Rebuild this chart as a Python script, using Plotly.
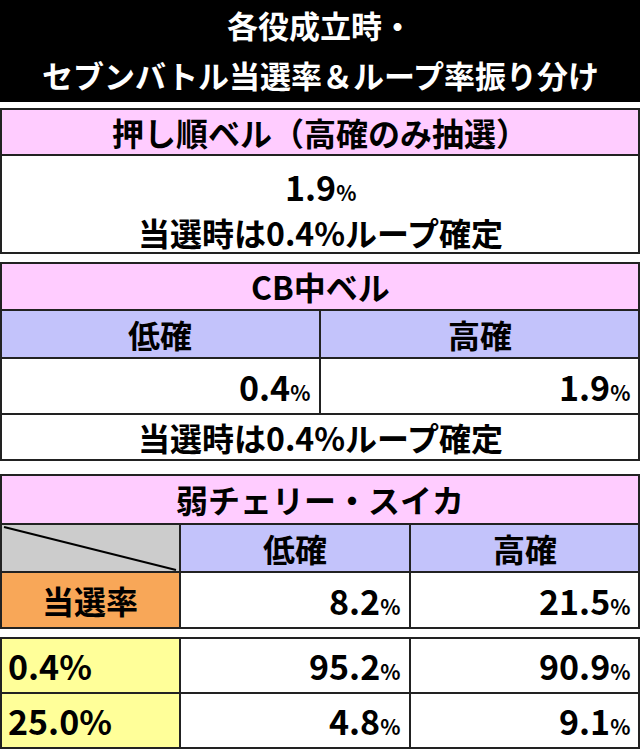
import plotly.graph_objects as go

title_lines = ["各役成立時・", "セブンバトル当選率＆ループ率振り分け"]
sec1_title = "押し順ベル（高確のみ抽選）"
sec1_rate = "1.9"
loop_note = "当選時は0.4%ループ確定"
sec2_title = "CB中ベル"
states = ["低確", "高確"]
sec2_rates = ["0.4", "1.9"]
sec3_title = "弱チェリー・スイカ"
win_label = "当選率"
sec3_rates = ["8.2", "21.5"]
loop_labels = ["0.4%", "25.0%"]
loop_low = ["95.2", "4.8"]
loop_high = ["90.9", "9.1"]

PINK = "#ffccff"; LAV = "#c3c3fb"; GRAY = "#cccccc"; ORANGE = "#f8a758"; YEL = "#ffff99"
FONT = "Noto Sans CJK JP"
shapes = []; ann = []

def rect(x0, y0, x1, y1, fill, lw=2):
    shapes.append(dict(type="rect", x0=x0, y0=y0, x1=x1, y1=y1, fillcolor=fill,
                       line=dict(color="#222", width=lw), layer="below"))

def text(x, y, s, size=33, anchor="center", color="black"):
    ann.append(dict(x=x, y=y, text="<b>" + s + "</b>", showarrow=False, xanchor=anchor,
                    yanchor="middle", font=dict(family=FONT, size=size, color=color, weight=900)))

def pct(v, size=34):
    return v + "<span style='font-size:%dpx'>%%</span>" % int(size * 0.62)

# title
shapes.append(dict(type="rect", x0=0, y0=0, x1=640, y1=102, fillcolor="black", line=dict(width=0), layer="below"))
text(320, 24, title_lines[0], 31, color="white")
text(320, 74, title_lines[1], 31, color="white")

# section 1
rect(1, 109, 639, 155, PINK)
text(320, 132, sec1_title, 32)
rect(1, 155, 639, 253, "white")
text(320, 186, pct(sec1_rate), 34)
text(320, 232, loop_note, 32)

# section 2
rect(1, 263, 639, 310, PINK)
text(320, 286, sec2_title, 32)
rect(1, 310, 320, 358, LAV); rect(320, 310, 639, 358, LAV)
text(160, 334, states[0], 32); text(480, 334, states[1], 32)
rect(1, 358, 320, 414, "white"); rect(320, 358, 639, 414, "white")
text(312, 386, pct(sec2_rates[0]), 34, "right"); text(632, 386, pct(sec2_rates[1]), 34, "right")
rect(1, 414, 639, 460, "white")
text(320, 437, loop_note, 32)

# section 3
rect(1, 475, 639, 524, PINK)
text(320, 499, sec3_title, 32)
rect(1, 524, 180, 572, GRAY)
shapes.append(dict(type="line", x0=4, y0=527, x1=176, y1=570, line=dict(color="black", width=2)))
rect(180, 524, 410, 572, LAV); rect(410, 524, 639, 572, LAV)
text(295, 548, states[0], 32); text(525, 548, states[1], 32)
rect(1, 572, 180, 628, ORANGE)
text(90, 600, win_label, 32)
rect(180, 572, 410, 628, "white"); rect(410, 572, 639, 628, "white")
text(402, 600, pct(sec3_rates[0]), 34, "right"); text(632, 600, pct(sec3_rates[1]), 34, "right")
for i in range(2):
    y0 = 638 + i * 55; y1 = y0 + 55
    rect(1, y0, 180, y1, YEL); rect(180, y0, 410, y1, "white"); rect(410, y0, 639, y1, "white")
    text(6, (y0 + y1) / 2, loop_labels[i], 34, "left")
    text(402, (y0 + y1) / 2, pct(loop_low[i]), 34, "right")
    text(632, (y0 + y1) / 2, pct(loop_high[i]), 34, "right")

fig = go.Figure()
fig.update_layout(width=640, height=751, margin=dict(l=0, r=0, t=0, b=0),
                  paper_bgcolor="white", plot_bgcolor="white", shapes=shapes, annotations=ann,
                  xaxis=dict(range=[0, 640], visible=False, fixedrange=True),
                  yaxis=dict(range=[751, 0], visible=False, fixedrange=True), showlegend=False)
fig.write_html("out.html", config={"displayModeBar": False})

with open("out.html", encoding="utf-8") as f:
    html = f.read()
html = html.replace("<head>", "<head><style>html,body{margin:0;padding:0;overflow:hidden}</style>", 1)
with open("out.html", "w", encoding="utf-8") as f:
    f.write(html)
